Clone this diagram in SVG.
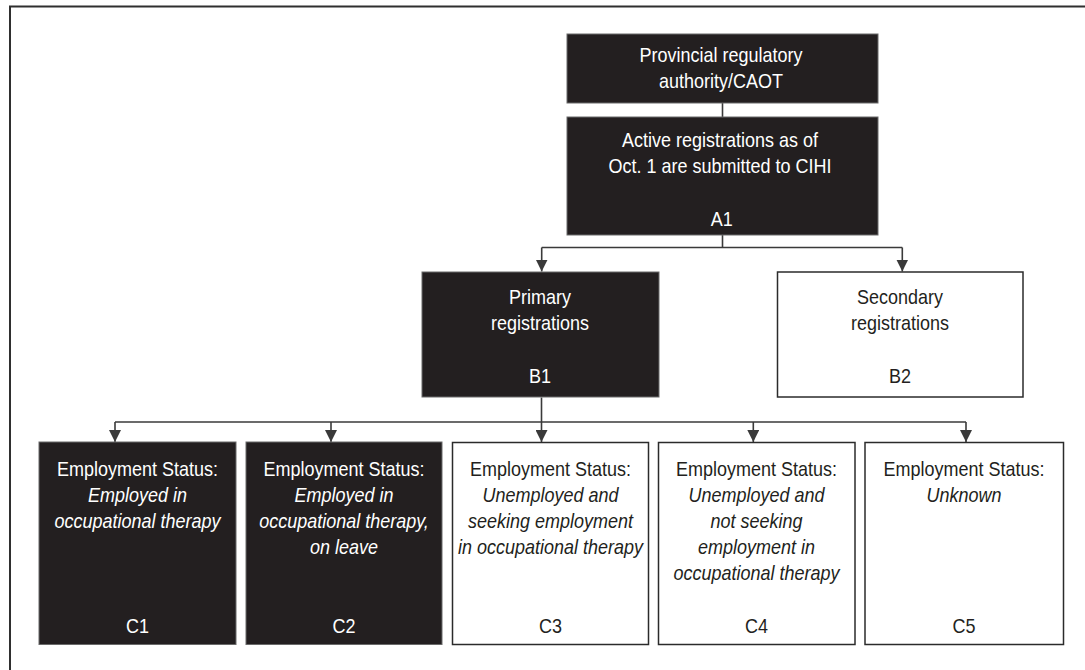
<svg xmlns="http://www.w3.org/2000/svg" width="1085" height="670" viewBox="0 0 1085 670">
<style>
.dark{fill:#231f20;stroke:#6a6a6a;stroke-width:1}
.light{fill:#ffffff;stroke:#2b2b2b;stroke-width:1.5}
text{font-family:"Liberation Sans",Arial,sans-serif;font-size:21px;text-anchor:middle}
.wt{fill:#ffffff}
.bt{fill:#231f20}
.it{font-style:italic}
.conn{fill:none;stroke:#3a3a3a;stroke-width:1.6}
</style>
<defs>
<marker id="arr" markerUnits="userSpaceOnUse" markerWidth="12" markerHeight="12" refX="12" refY="6" orient="auto" viewBox="0 0 12 12">
<path d="M0,0 L12,6 L0,12 z" fill="#3a3a3a"/>
</marker>
</defs>
<rect width="1085" height="670" fill="#ffffff"/>
<path d="M10,670 V6.5 H1085" fill="none" stroke="#2f2f2f" stroke-width="2"/>

<g id="connectors">
<path class="conn" d="M722.5,103 V117"/>
<path class="conn" d="M722.5,235 V247.5"/>
<path class="conn" d="M541.7,247.5 H902.3"/>
<path class="conn" d="M541.7,247.5 V271.5" marker-end="url(#arr)"/>
<path class="conn" d="M902.3,247.5 V271.5" marker-end="url(#arr)"/>
<path class="conn" d="M541.5,397.5 V442" stroke-width="2" marker-end="url(#arr)"/>
<path class="conn" d="M115,422 H966"/>
<path class="conn" d="M115,422 V442" marker-end="url(#arr)"/>
<path class="conn" d="M331,422 V442" marker-end="url(#arr)"/>
<path class="conn" d="M753.3,422 V442" marker-end="url(#arr)"/>
<path class="conn" d="M966,422 V442" marker-end="url(#arr)"/>
</g>

<g id="provincial">
<rect class="dark" x="567" y="34" width="311" height="69"/>
<g transform="translate(721,0) scale(0.857,1)">
<text class="wt" x="0" y="62.5">Provincial regulatory</text>
<text class="wt" x="0" y="88">authority/CAOT</text>
</g>
</g>

<g id="A1">
<rect class="dark" x="567" y="117" width="311" height="118"/>
<g transform="translate(720,0) scale(0.857,1)">
<text class="wt" x="0" y="147">Active registrations as of</text>
<text class="wt" x="0" y="173">Oct. 1 are submitted to CIHI</text>
<text class="wt" x="2" y="226.5">A1</text>
</g>
</g>

<g id="B1">
<rect class="dark" x="422" y="272" width="237" height="125"/>
<g transform="translate(540,0) scale(0.857,1)">
<text class="wt" x="0" y="304">Primary</text>
<text class="wt" x="0" y="330">registrations</text>
<text class="wt" x="0" y="383.5">B1</text>
</g>
</g>

<g id="B2">
<rect class="light" x="777.5" y="272" width="245.5" height="125"/>
<g transform="translate(900,0) scale(0.857,1)">
<text class="bt" x="0" y="304">Secondary</text>
<text class="bt" x="0" y="330">registrations</text>
<text class="bt" x="0" y="383.5">B2</text>
</g>
</g>

<g id="C1">
<rect class="dark" x="39" y="442" width="197" height="202.5"/>
<g transform="translate(137.5,0) scale(0.857,1)">
<text class="wt" x="0" y="476">Employment Status:</text>
<text class="wt it" x="0" y="502">Employed in</text>
<text class="wt it" x="0" y="528">occupational therapy</text>
<text class="wt" x="0" y="633.5">C1</text>
</g>
</g>

<g id="C2">
<rect class="dark" x="246" y="442" width="196" height="202.5"/>
<g transform="translate(344,0) scale(0.857,1)">
<text class="wt" x="0" y="476">Employment Status:</text>
<text class="wt it" x="0" y="502">Employed in</text>
<text class="wt it" x="0" y="528">occupational therapy,</text>
<text class="wt it" x="0" y="554">on leave</text>
<text class="wt" x="0" y="633.5">C2</text>
</g>
</g>

<g id="C3">
<rect class="light" x="452.5" y="442.5" width="196" height="202"/>
<g transform="translate(550.5,0) scale(0.857,1)">
<text class="bt" x="0" y="476">Employment Status:</text>
<text class="bt it" x="0" y="502">Unemployed and</text>
<text class="bt it" x="0" y="528">seeking employment</text>
<text class="bt it" x="0" y="554">in occupational therapy</text>
<text class="bt" x="0" y="633.5">C3</text>
</g>
</g>

<g id="C4">
<rect class="light" x="658.5" y="442.5" width="196.5" height="202"/>
<g transform="translate(756.5,0) scale(0.857,1)">
<text class="bt" x="0" y="476">Employment Status:</text>
<text class="bt it" x="0" y="502">Unemployed and</text>
<text class="bt it" x="0" y="528">not seeking</text>
<text class="bt it" x="0" y="554">employment in</text>
<text class="bt it" x="0" y="580">occupational therapy</text>
<text class="bt" x="0" y="633.5">C4</text>
</g>
</g>

<g id="C5">
<rect class="light" x="865" y="442.5" width="198.5" height="202"/>
<g transform="translate(964,0) scale(0.857,1)">
<text class="bt" x="0" y="476">Employment Status:</text>
<text class="bt it" x="0" y="502">Unknown</text>
<text class="bt" x="0" y="633.5">C5</text>
</g>
</g>
</svg>
